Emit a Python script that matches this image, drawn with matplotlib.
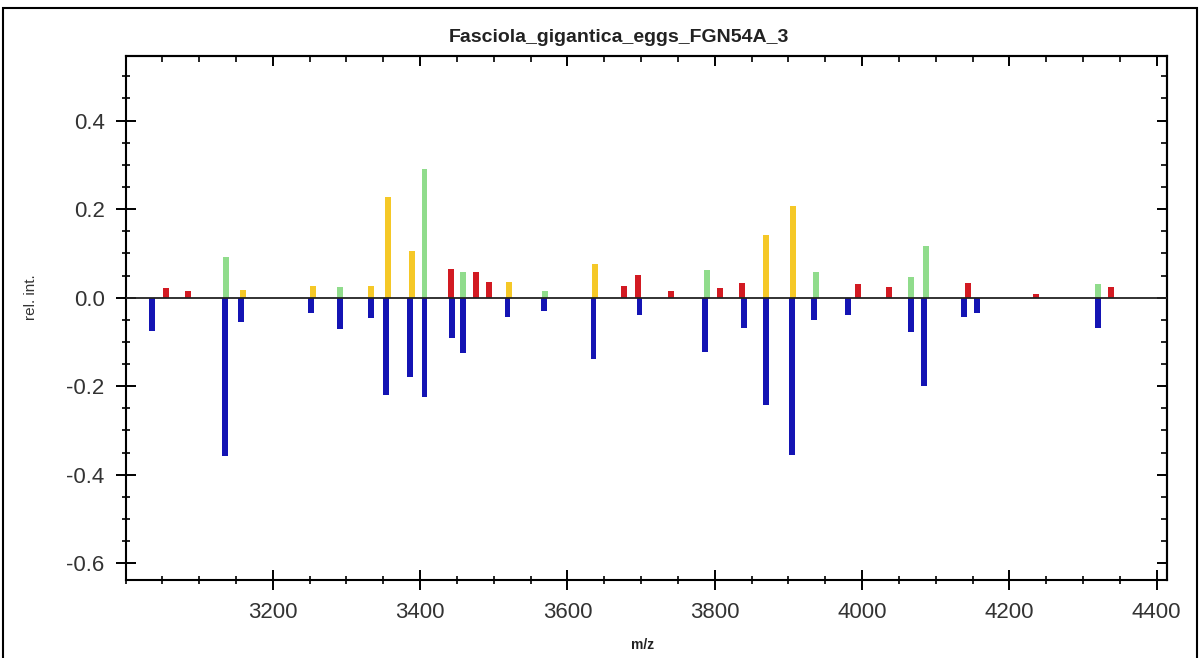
import numpy as np
import matplotlib
matplotlib.use('Agg')
import matplotlib.pyplot as plt
from matplotlib.patches import Rectangle
from matplotlib.ticker import MultipleLocator

## ------------------------------ peak lists ------------------------------ ##
title = 'Fasciola_gigantica_eggs_FGN54A_3'

# positive side, one list per colour class
yellow_mz = [3159.5, 3254, 3333.6, 3356, 3389, 3521, 3637.6, 3869.3, 3906.8]
yellow_int = [0.017, 0.026, 0.026, 0.228, 0.105, 0.035, 0.075, 0.141, 0.207]

green_mz = [3136.8, 3291.5, 3406, 3458.5, 3569, 3789.2, 3937, 4066.5, 4086.5, 4320.7]
green_int = [0.091, 0.025, 0.291, 0.059, 0.014, 0.063, 0.058, 0.047, 0.117, 0.030]

red_mz = [3055.4, 3084.8, 3441.8, 3475.7, 3493.8, 3677.4, 3695.5, 3740.4,
          3807.2, 3836.7, 3994, 4036.6, 4144.3, 4236.2, 4337.9]
red_int = [0.021, 0.014, 0.064, 0.059, 0.035, 0.026, 0.051, 0.014,
           0.021, 0.034, 0.030, 0.023, 0.034, 0.008, 0.023]

# negative side (reference spectrum)
blue_mz = [3036, 3134.5, 3157, 3252, 3291.5, 3333.6, 3353.6, 3386.5, 3406,
           3443.5, 3458.5, 3518.6, 3568.4, 3635.4, 3697.8, 3787, 3839.9,
           3869.3, 3904.6, 3935, 3981.4, 4066.5, 4084, 4138.4, 4156.5, 4320.7]
blue_int = [-0.076, -0.358, -0.054, -0.034, -0.071, -0.046, -0.221, -0.179, -0.225,
            -0.092, -0.126, -0.043, -0.030, -0.139, -0.039, -0.122, -0.068,
            -0.243, -0.355, -0.051, -0.039, -0.077, -0.200, -0.043, -0.035, -0.069]

## ------------------------------- figure --------------------------------- ##
W, H = 1200, 658
fig = plt.figure(figsize=(W / 100, H / 100), dpi=100)
ax = fig.add_axes([125.5 / W, 1 - 580 / H, (1166.7 - 125.5) / W, (580 - 56) / H])

bw = 8
ax.bar(blue_mz, blue_int, width=bw, color='#1414b4', zorder=2)
ax.bar(yellow_mz, yellow_int, width=bw, color='#f5c827', zorder=2)
ax.bar(green_mz, green_int, width=bw, color='#90dc8c', zorder=2)
ax.bar(red_mz, red_int, width=bw, color='#d21a22', zorder=2)

ax.axhline(0, color='#222222', lw=1.3, zorder=3)

ax.set_xlim(3000, 4413.6)
ax.set_ylim(-0.638, 0.546)

ax.xaxis.set_minor_locator(MultipleLocator(50))
ax.yaxis.set_minor_locator(MultipleLocator(0.05))
ax.set_xticks([3200, 3400, 3600, 3800, 4000, 4200, 4400])
ax.set_yticks([-0.6, -0.4, -0.2, 0.0, 0.2, 0.4])
ax.set_yticklabels(['-0.6', '-0.4', '-0.2', '0.0', '0.2', '0.4'])

for s in ax.spines.values():
    s.set_linewidth(1.5)

ax.tick_params(which='major', direction='inout', length=14, width=1.4,
               labelsize=16, labelcolor='#333333')
ax.tick_params(which='minor', direction='inout', length=6, width=1.2)
ax.tick_params(axis='x', which='major', pad=9)
ax.tick_params(axis='y', which='major', pad=8)

# top / right ticks point inward only
top = ax.secondary_xaxis('top')
top.set_xticks([3200, 3400, 3600, 3800, 4000, 4200, 4400])
top.xaxis.set_minor_locator(MultipleLocator(50))
top.tick_params(which='major', direction='in', length=7, width=1.4, labeltop=False)
top.tick_params(which='minor', direction='in', length=4, width=1.2)
right = ax.secondary_yaxis('right')
right.set_yticks([-0.6, -0.4, -0.2, 0.0, 0.2, 0.4])
right.yaxis.set_minor_locator(MultipleLocator(0.05))
right.tick_params(which='major', direction='in', length=7, width=1.4, labelright=False)
right.tick_params(which='minor', direction='in', length=4, width=1.2)
for sa in (top, right):
    for s in sa.spines.values():
        s.set_linewidth(1.5)

## ------------------------------- labels --------------------------------- ##
fig.text(619 / W, 1 - 37 / H, title, ha='center', va='center', fontsize=14,
         fontweight='bold', color='#222222',
         family=['Liberation Sans Narrow', 'Liberation Sans', 'DejaVu Sans'])
fig.text(643 / W, 1 - 645 / H, 'm/z', ha='center', va='center', fontsize=10,
         fontweight='bold', color='#222222', family=['Liberation Sans', 'DejaVu Sans'])
fig.text(31 / W, 1 - 297 / H, 'rel. int.', ha='center', va='center', fontsize=11,
         rotation=90, color='#333333', family=['Liberation Sans', 'DejaVu Sans'])

# frame round the whole picture
fig.patches.append(Rectangle((3 / W, -0.1), (1197 - 3) / W, 1.1 - 8 / H,
                             transform=fig.transFigure, fill=False,
                             edgecolor='black', lw=1.5))

for t in ax.get_xticklabels() + ax.get_yticklabels():
    t.set_family(['Liberation Sans', 'DejaVu Sans'])

fig.savefig('out.png', dpi=100)
